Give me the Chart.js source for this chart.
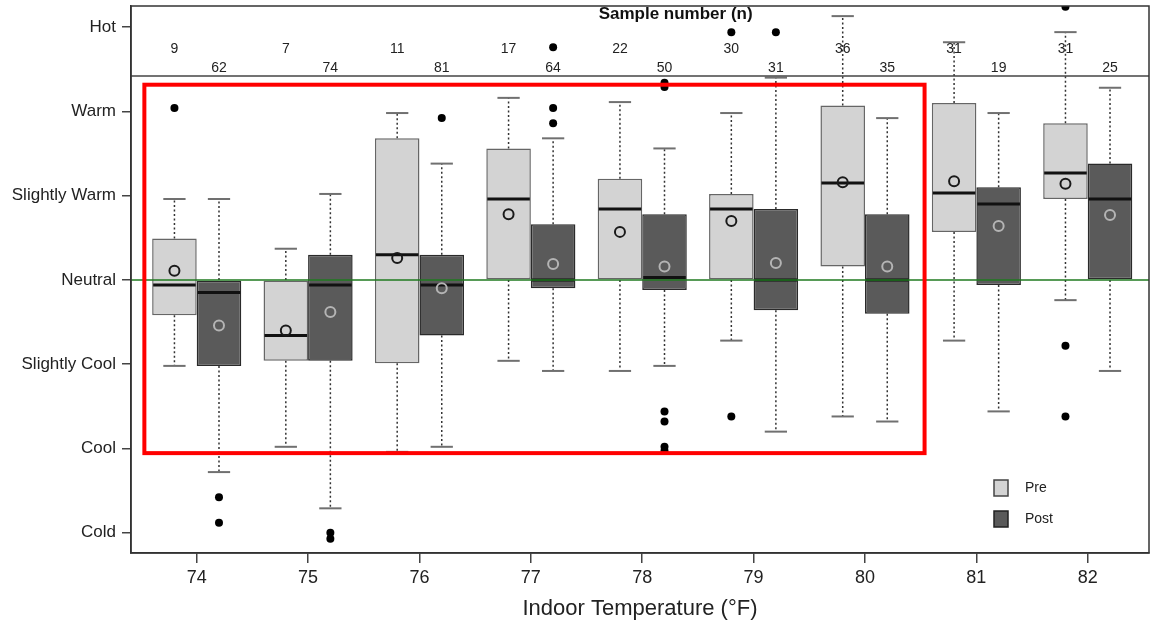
<!DOCTYPE html>
<html>
<head>
<meta charset="utf-8">
<script src="https://cdn.jsdelivr.net/npm/chart.js@4.4.1/dist/chart.umd.min.js"></script>
<style>
    html, body { margin: 0; padding: 0; background: #fff; }
    #wrap { width: 1154px; height: 628px; }
</style>
</head>
<body>
<div id="wrap"><canvas id="comfortChart" width="1154" height="628"></canvas></div>
<script>
// indoor temperature groups (deg F)
const temps = [74, 75, 76, 77, 78, 79, 80, 81, 82];
const sensationLabels = ['Cold', 'Cool', 'Slightly Cool', 'Neutral', 'Slightly Warm', 'Warm', 'Hot'];
const sensationValues = [-3, -2, -1, 0, 1, 2, 3];

const preN = [9, 7, 11, 17, 22, 30, 36, 31, 31];
const postN = [62, 74, 81, 64, 50, 31, 35, 19, 25];

// Pre survey boxes
const preLow = [-1.02, -1.98, -2.04, -0.96, -1.08, -0.72, -1.62, -0.72, -0.24];
const preQ1 = [-0.42, -0.96, -0.99, 0, 0, 0, 0.16, 0.57, 0.96];
const preMedian = [-0.06, -0.66, 0.30, 0.96, 0.84, 0.84, 1.15, 1.03, 1.27];
const preQ3 = [0.49, 0, 1.68, 1.56, 1.20, 1.02, 2.07, 2.10, 1.86];
const preHigh = [0.96, 0.37, 1.98, 2.16, 2.11, 1.98, 3.13, 2.82, 2.94];
const preMean = [0.11, -0.60, 0.26, 0.78, 0.57, 0.70, 1.16, 1.17, 1.14];
const preOutliers = [[2.04], [], [], [], [], [2.94, -1.62], [], [], [3.24, -0.78, -1.62]];

// Post survey boxes
const postLow = [-2.28, -2.71, -1.98, -1.08, -1.02, -1.80, -1.68, -1.56, -1.08];
const postQ1 = [-1.02, -0.96, -0.66, -0.10, -0.12, -0.36, -0.40, -0.06, 0];
const postMedian = [-0.15, -0.06, -0.06, 0, 0.03, 0, 0, 0.90, 0.96];
const postQ3 = [0, 0.30, 0.30, 0.66, 0.78, 0.84, 0.78, 1.10, 1.38];
const postHigh = [0.96, 1.02, 1.38, 1.68, 1.56, 2.40, 1.92, 1.98, 2.28];
const postMean = [-0.54, -0.38, -0.10, 0.19, 0.16, 0.20, 0.16, 0.64, 0.77];
const postOutliers = [[-2.58, -2.88], [-3.0, -3.07], [1.92], [2.76, 2.04, 1.86],
    [2.34, 2.29, -1.56, -1.68, -1.98, -2.03], [2.94], [], [], []];

(function () {
    'use strict';

    const FONT = "'Liberation Sans', Arial, sans-serif";
    const INK = '#222';

    // header band and highlighted region, in data units
    const headerLine = 2.42;
    const headerTitleAt = { x: 78.3, y: 3.15 };
    const preNAt = 2.74;
    const postNAt = 2.51;
    const highlight = { x0: 73.53, x1: 80.535, y0: -2.055, y1: 2.316 };

    const series = [
        { low: preLow, q1: preQ1, med: preMedian, q3: preQ3, high: preHigh, mean: preMean, out: preOutliers, n: preN, nAt: preNAt, meanColor: '#1a1a1a' },
        { low: postLow, q1: postQ1, med: postMedian, q3: postQ3, high: postHigh, mean: postMean, out: postOutliers, n: postN, nAt: postNAt, meanColor: '#b4b4b4' }
    ];

    function line(ctx, x1, y1, x2, y2) {
        ctx.beginPath();
        ctx.moveTo(x1, y1);
        ctx.lineTo(x2, y2);
        ctx.stroke();
    }

    function clipArea(ctx, area) {
        ctx.beginPath();
        ctx.rect(area.left, area.top, area.right - area.left, area.bottom - area.top);
        ctx.clip();
    }

    const boxExtras = {
        id: 'boxExtras',
        beforeDatasetsDraw(chart) {
            const ctx = chart.ctx;
            const y = chart.scales.y;
            ctx.save();
            clipArea(ctx, chart.chartArea);
            series.forEach((s, d) => {
                chart.getDatasetMeta(d).data.forEach((bar, i) => {
                    const cx = bar.x;
                    const capHalf = bar.width / 4;
                    ctx.strokeStyle = '#333';
                    ctx.lineWidth = 1.5;
                    ctx.setLineDash([2, 2.5]);
                    line(ctx, cx, y.getPixelForValue(s.q3[i]), cx, y.getPixelForValue(s.high[i]));
                    line(ctx, cx, y.getPixelForValue(s.q1[i]), cx, y.getPixelForValue(s.low[i]));
                    ctx.setLineDash([]);
                    ctx.strokeStyle = '#707070';
                    ctx.lineWidth = 2;
                    line(ctx, cx - capHalf, y.getPixelForValue(s.high[i]), cx + capHalf, y.getPixelForValue(s.high[i]));
                    line(ctx, cx - capHalf, y.getPixelForValue(s.low[i]), cx + capHalf, y.getPixelForValue(s.low[i]));
                });
            });
            ctx.restore();
        },
        afterDatasetsDraw(chart) {
            const ctx = chart.ctx;
            const x = chart.scales.x;
            const y = chart.scales.y;
            const area = chart.chartArea;
            ctx.save();
            clipArea(ctx, area);

            series.forEach((s, d) => {
                chart.getDatasetMeta(d).data.forEach((bar, i) => {
                    const cx = bar.x;
                    const half = bar.width / 2;
                    // median
                    ctx.strokeStyle = '#111';
                    ctx.lineWidth = 3;
                    line(ctx, cx - half + 1, y.getPixelForValue(s.med[i]), cx + half - 1, y.getPixelForValue(s.med[i]));
                    // mean
                    ctx.strokeStyle = s.meanColor;
                    ctx.lineWidth = 2;
                    ctx.beginPath();
                    ctx.arc(cx, y.getPixelForValue(s.mean[i]), 5, 0, Math.PI * 2);
                    ctx.stroke();
                    // outliers
                    ctx.fillStyle = '#000';
                    s.out[i].forEach((v) => {
                        ctx.beginPath();
                        ctx.arc(cx, y.getPixelForValue(v), 4, 0, Math.PI * 2);
                        ctx.fill();
                    });
                    // sample size
                    ctx.fillStyle = INK;
                    ctx.font = '14px ' + FONT;
                    ctx.textAlign = 'center';
                    ctx.textBaseline = 'middle';
                    ctx.fillText(String(s.n[i]), cx, y.getPixelForValue(s.nAt));
                });
            });

            // neutral reference
            ctx.strokeStyle = '#1f7a1f';
            ctx.lineWidth = 1.5;
            line(ctx, area.left, y.getPixelForValue(0), area.right, y.getPixelForValue(0));

            // header separator
            ctx.strokeStyle = '#444';
            ctx.lineWidth = 1.5;
            line(ctx, area.left, y.getPixelForValue(headerLine), area.right, y.getPixelForValue(headerLine));

            ctx.fillStyle = '#111';
            ctx.font = 'bold 17px ' + FONT;
            ctx.textAlign = 'center';
            ctx.textBaseline = 'middle';
            ctx.fillText('Sample number (n)', x.getPixelForValue(headerTitleAt.x), y.getPixelForValue(headerTitleAt.y));

            // highlighted region
            ctx.strokeStyle = '#ff0000';
            ctx.lineWidth = 4;
            const rx0 = x.getPixelForValue(highlight.x0);
            const rx1 = x.getPixelForValue(highlight.x1);
            const ry0 = y.getPixelForValue(highlight.y1);
            const ry1 = y.getPixelForValue(highlight.y0);
            ctx.strokeRect(rx0, ry0, rx1 - rx0, ry1 - ry0);

            // legend
            const lx = area.right - 155;
            const ly = area.bottom - 73;
            const legendItems = [
                { label: 'Pre', fill: '#d3d3d3', stroke: '#444' },
                { label: 'Post', fill: '#5a5a5a', stroke: '#222' }
            ];
            legendItems.forEach((item, k) => {
                const top = ly + k * 31;
                ctx.fillStyle = item.fill;
                ctx.fillRect(lx, top, 14, 16);
                ctx.strokeStyle = item.stroke;
                ctx.lineWidth = 1.5;
                ctx.strokeRect(lx, top, 14, 16);
                ctx.fillStyle = INK;
                ctx.font = '14px ' + FONT;
                ctx.textAlign = 'left';
                ctx.textBaseline = 'middle';
                ctx.fillText(item.label, lx + 31, top + 8);
            });
            ctx.restore();

            // plot frame
            ctx.save();
            ctx.strokeStyle = '#333';
            ctx.lineWidth = 1.5;
            ctx.strokeRect(area.left, area.top, area.right - area.left, area.bottom - area.top);
            ctx.restore();
        }
    };

    new Chart(document.getElementById('comfortChart'), {
        type: 'bar',
        data: {
            datasets: [{
                label: 'Pre',
                data: temps.map((t, i) => ({ x: t, y: [preQ1[i], preQ3[i]] })),
                backgroundColor: '#d3d3d3',
                borderColor: '#666',
                borderWidth: 1.5,
                borderSkipped: false,
                categoryPercentage: 0.8,
                barPercentage: 1.0
            }, {
                label: 'Post',
                data: temps.map((t, i) => ({ x: t, y: [postQ1[i], postQ3[i]] })),
                backgroundColor: '#5a5a5a',
                borderColor: '#2a2a2a',
                borderWidth: 1.5,
                borderSkipped: false,
                categoryPercentage: 0.8,
                barPercentage: 1.0
            }]
        },
        options: {
            responsive: false,
            animation: false,
            layout: { padding: { top: 6, right: 5, left: 0, bottom: 0 } },
            plugins: { legend: { display: false }, tooltip: { enabled: false } },
            scales: {
                x: {
                    type: 'linear',
                    offset: false,
                    min: 73.41,
                    max: 82.55,
                    afterBuildTicks(scale) { scale.ticks = temps.map((t) => ({ value: t })); },
                    afterFit(scale) { scale.height = 75; },
                    grid: { display: true, offset: false, drawOnChartArea: false, drawTicks: true, tickLength: 10, color: '#444', lineWidth: 1.5 },
                    border: { display: true, color: '#333', width: 1.5 },
                    ticks: { color: INK, font: { family: FONT, size: 18 }, padding: 4, callback: (v) => String(v) },
                    title: { display: true, text: 'Indoor Temperature (°F)', color: INK, font: { family: FONT, size: 22 }, padding: { top: 0, bottom: 6 } }
                },
                y: {
                    type: 'linear',
                    min: -3.24,
                    max: 3.25,
                    afterBuildTicks(scale) { scale.ticks = sensationValues.map((v) => ({ value: v })); },
                    afterFit(scale) {
                        scale.width = 131;
                        scale.paddingTop = 0;
                        scale.paddingBottom = 0;
                    },
                    grid: { display: true, drawOnChartArea: false, drawTicks: true, tickLength: 9, color: '#444', lineWidth: 1.5 },
                    border: { display: true, color: '#333', width: 1.5 },
                    ticks: {
                        color: INK,
                        font: { family: FONT, size: 17 },
                        padding: 6,
                        callback: (v) => sensationLabels[sensationValues.indexOf(v)]
                    }
                }
            }
        },
        plugins: [boxExtras]
    });
})();
</script>
</body>
</html>
